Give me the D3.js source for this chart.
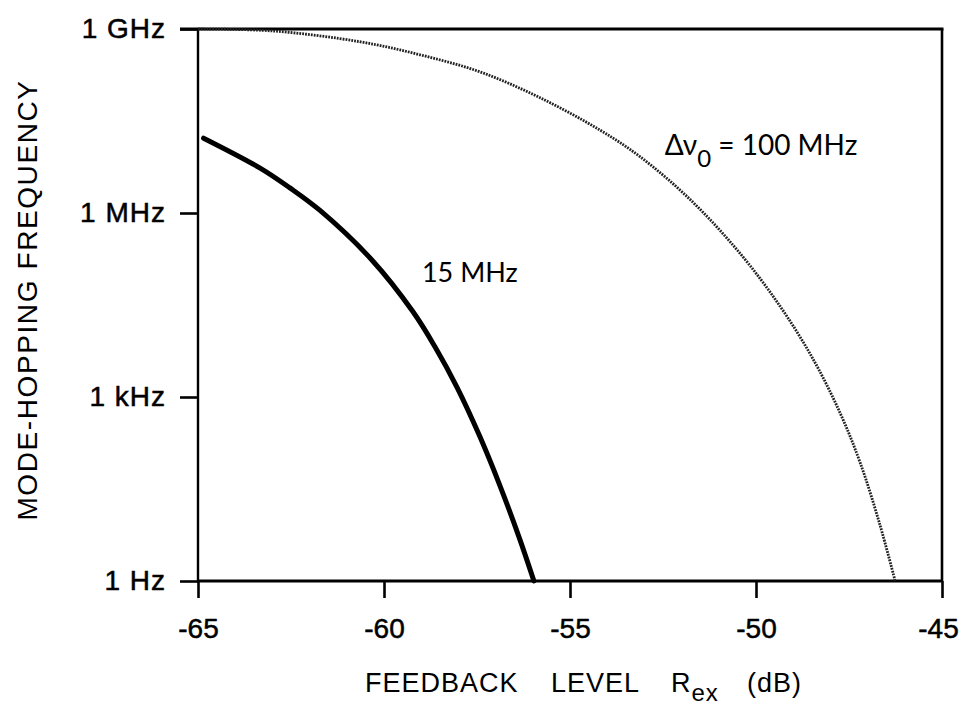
<!DOCTYPE html>
<html>
<head>
<meta charset="utf-8">
<script src="https://cdn.jsdelivr.net/npm/d3@7/dist/d3.min.js"></script>
<style>
  html, body { margin: 0; padding: 0; background: #fff; }
  svg { display: block; }
  .tick text { font-family: "Liberation Sans", Arial, sans-serif; fill: #000; }
</style>
</head>
<body>
<svg id="chart" width="961" height="723"></svg>
<script>
// Feedback level axis (dB) and mode-hopping frequency axis (Hz)
const xTicks = [-65, -60, -55, -50, -45];
const yTicks = [1, 1e3, 1e6, 1e9];
const yTickLabels = ["1 Hz", "1 kHz", "1 MHz", "1 GHz"];

// Linewidth 15 MHz (solid curve)
const rex15 = [-64.85, -63.33, -62.53, -61.72, -60.32, -59.22, -58.63, -58.04, -57.42, -56.9, -56.37, -55.97];
const freq15 = [1.66e7, 5.4e6, 2.57e6, 1.1e6, 1.7e5, 2.45e4, 6.6e3, 1.45e3, 224, 38, 5.2, 1];

// Linewidth 100 MHz (dotted curve)
const rex100 = [-65.0, -63.0, -60.65, -59.03, -57.42, -55.81, -54.19, -53.12, -51.77, -50.43, -49.35, -48.47, -47.74, -47.2, -46.67, -46.26];
const freq100 = [1.0e9, 9.3e8, 6.2e8, 3.8e8, 2.0e8, 7.6e7, 2.24e7, 8.3e6, 1.66e6, 2.2e5, 3.0e4, 4.2e3, 550, 85, 8.3, 1];

const svg = d3.select("#chart");
const plotLeft = 198, plotRight = 942, plotTop = 29, plotBottom = 581;

const x = d3.scaleLinear().domain([-65, -45]).range([plotLeft, plotRight]);
const y = d3.scaleLog().domain([1, 1e9]).range([plotBottom, plotTop]);

// Y axis with outward ticks
const yAxis = d3.axisLeft(y)
  .tickValues(yTicks)
  .tickFormat((d, i) => yTickLabels[i])
  .tickSize(18)
  .tickSizeOuter(0)
  .tickPadding(14);
const gy = svg.append("g").attr("transform", `translate(${plotLeft},0)`).call(yAxis);
gy.select(".domain").remove();
gy.selectAll(".tick line").attr("stroke", "#000").attr("stroke-width", 2.6);
gy.selectAll(".tick text")
  .attr("font-size", 28)
  .attr("letter-spacing", 1)
  .attr("stroke", "#000").attr("stroke-width", 0.5);

// X axis with ticks pointing down
const xAxis = d3.axisBottom(x)
  .tickValues(xTicks)
  .tickFormat(d => String(d))
  .tickSize(17)
  .tickSizeOuter(0)
  .tickPadding(20);
const gx = svg.append("g").attr("transform", `translate(0,${plotBottom})`).call(xAxis);
gx.select(".domain").remove();
gx.selectAll(".tick line").attr("stroke", "#000").attr("stroke-width", 2.6);
gx.selectAll(".tick text")
  .attr("font-size", 28)
  .attr("stroke", "#000").attr("stroke-width", 0.5)
  .attr("dx", d => d === -45 ? -4 : 0);

// Frame
const frame = svg.append("g").attr("stroke", "#000").attr("fill", "none");
frame.append("line").attr("x1", plotLeft).attr("x2", plotLeft).attr("y1", y(1e9)).attr("y2", y(1)).attr("stroke-width", 2.4);
frame.append("line").attr("x1", plotLeft).attr("x2", plotRight).attr("y1", y(1)).attr("y2", y(1)).attr("stroke-width", 3.2);
frame.append("line").attr("x1", plotLeft - 18).attr("x2", plotRight + 1.5).attr("y1", y(1e9)).attr("y2", y(1e9)).attr("stroke-width", 3.2);
frame.append("line").attr("x1", plotRight).attr("x2", plotRight).attr("y1", y(1e9)).attr("y2", y(1)).attr("stroke-width", 2.6);

// Curves
const line = d3.line()
  .x(d => x(d[0]))
  .y(d => y(d[1]))
  .curve(d3.curveCatmullRom.alpha(0.5));

svg.append("path")
  .datum(rex100.map((r, i) => [r, freq100[i]]))
  .attr("d", line)
  .attr("fill", "none")
  .attr("stroke", "#222")
  .attr("stroke-width", 2.8)
  .attr("stroke-dasharray", "1.8,1.1");

svg.append("path")
  .datum(rex15.map((r, i) => [r, freq15[i]]))
  .attr("d", line)
  .attr("fill", "none")
  .attr("stroke", "#000")
  .attr("stroke-width", 5)
  .attr("stroke-linecap", "round");

// Curve labels
const labelFont = "Lato, 'Open Sans', 'Noto Sans', sans-serif";
svg.append("text")
  .attr("x", x(-58.98)).attr("y", y(7.4e4))
  .attr("font-family", labelFont).attr("font-size", 27)
  .attr("fill", "#000")
  .text("15 MHz");

const lbl = svg.append("text")
  .attr("x", x(-52.45)).attr("y", y(8.9e6))
  .attr("font-family", labelFont).attr("font-size", 28)
  .attr("fill", "#000");
lbl.append("tspan").text("\u0394\u03bd");
lbl.append("tspan").attr("dy", 12).attr("font-size", 24).text("0");
lbl.append("tspan").attr("dy", -12).text(" = 100 MHz");

// Axis titles
const titleFont = "'Liberation Sans', Arial, sans-serif";
const xt = svg.append("text")
  .attr("y", 692)
  .attr("font-family", titleFont).attr("font-size", 27)
  .attr("letter-spacing", 1)
  .attr("fill", "#000");
xt.append("tspan").attr("x", 365).text("FEEDBACK");
xt.append("tspan").attr("x", 551).text("LEVEL");
xt.append("tspan").attr("x", 671).text("R");
xt.append("tspan").attr("dy", 9).attr("font-size", 24).text("ex");
xt.append("tspan").attr("x", 747).attr("dy", -9).text("(dB)");

svg.append("text")
  .attr("transform", `translate(37,300) rotate(-90)`)
  .attr("text-anchor", "middle")
  .attr("font-family", titleFont).attr("font-size", 28)
  .attr("letter-spacing", 1.6)
  .attr("fill", "#000")
  .text("MODE-HOPPING FREQUENCY");
</script>
</body>
</html>
